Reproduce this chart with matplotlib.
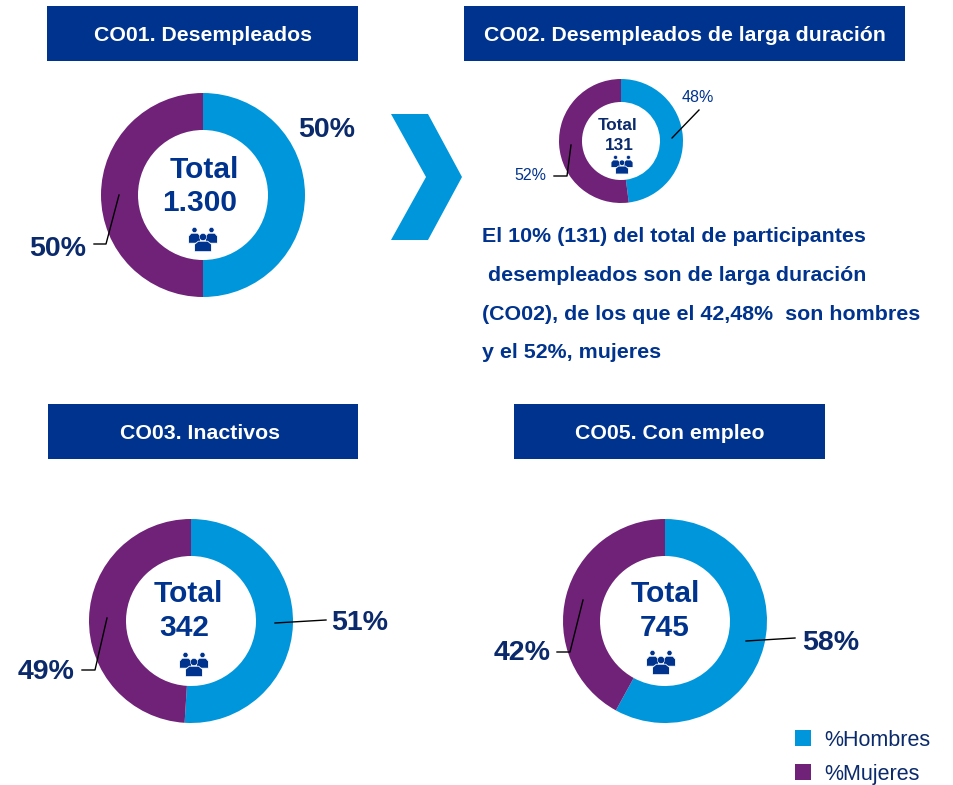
import matplotlib
matplotlib.use('Agg')
import matplotlib.pyplot as plt
from matplotlib.patches import Rectangle, Polygon, Circle

plt.rcParams['font.family'] = ['Liberation Sans', 'DejaVu Sans']

W, H = 954, 785
BLUE = '#0096DC'
PURPLE = '#6F2278'
NAVY = '#00338D'
DARK = '#0B2A6B'

series_names = ['%Hombres', '%Mujeres']
titles = ['CO01. Desempleados', 'CO02. Desempleados de larga duración',
          'CO03. Inactivos', 'CO05. Con empleo']
hombres = [50, 48, 51, 58]
mujeres = [50, 52, 49, 42]
totals = ['1.300', '131', '342', '745']
note_lines = ['El 10% (131) del total de participantes',
              ' desempleados son de larga duración',
              '(CO02), de los que el 42,48%  son hombres',
              'y el 52%, mujeres']


def py(y):
    return H - y


fig = plt.figure(figsize=(W / 100, H / 100), dpi=100, facecolor='white')
ax = fig.add_axes([0, 0, 1, 1])


def person(x, top, w, h, r, z):
    # head plus shoulders, in picture pixels
    ax.add_patch(Circle((x, py(top)), r, fc=NAVY, ec='white', lw=0.4, zorder=z))
    y0 = top + r + 0.6
    pts = [(x - w, y0 + h), (x - w, y0 + 0.3 * h), (x - 0.55 * w, y0), (x + 0.55 * w, y0),
           (x + w, y0 + 0.3 * h), (x + w, y0 + h)]
    ax.add_patch(Polygon([(a, py(b)) for a, b in pts], closed=True, fc=NAVY, ec='white',
                         lw=0.6, zorder=z))


def people(cx, cy, s):
    # small group icon, s = scale in px
    person(cx - 8.5 * s, cy - 10 * s, 6 * s, 10 * s, 2.6 * s, 5)
    person(cx + 8.5 * s, cy - 10 * s, 6 * s, 10 * s, 2.6 * s, 5)
    person(cx, cy - 3 * s, 8.5 * s, 10.5 * s, 3.6 * s, 6)


def donut(i, cx, cy, r, hole):
    ax.pie([hombres[i], mujeres[i]], colors=[BLUE, PURPLE], startangle=90, counterclock=False,
           center=(cx, py(cy)), radius=r, frame=False,
           wedgeprops=dict(width=r - hole, linewidth=0))


def header(i, x0, x1, y0, y1, dx=0, size=15.3):
    ax.add_patch(Rectangle((x0, py(y1)), x1 - x0, y1 - y0, fc=NAVY, ec='none', zorder=3))
    ax.text((x0 + x1) / 2 + dx, py((y0 + y1) / 2 + 2), titles[i], color='white', fontsize=size,
            fontweight='bold', ha='center', va='center', zorder=4)


def leader(xs, ys):
    ax.plot(xs, [py(y) for y in ys], color='black', lw=1, zorder=5)


def label(x, y, txt, size=20.5, color=DARK, weight='bold'):
    ax.text(x, py(y + 2), txt, fontsize=size, color=color, fontweight=weight, ha='center', va='center')


donut(0, 203, 195, 102, 65)
donut(1, 621, 141, 62, 39)
donut(2, 191, 621, 102, 65)
donut(3, 665, 621, 102, 65)

header(0, 47, 358, 6, 61, 1)
header(1, 464, 905, 6, 61)
header(2, 48, 358, 404, 459, -3)
header(3, 514, 825, 404, 459)

# arrow between first two
ax.add_patch(Polygon([(391, py(114)), (428, py(114)), (462, py(177)), (428, py(240)),
                      (391, py(240)), (426, py(177))], closed=True, fc=BLUE, ec='none'))

# centre texts
label(204, 168, 'Total', 21.5, NAVY)
label(200, 201, totals[0], 21.5, NAVY)
people(203, 240, 1)
label(618, 124, 'Total', 12.3, DARK)
label(619, 143, totals[1], 12.3, DARK)
people(622, 165, 0.76)
label(188, 592, 'Total', 21.5, NAVY)
label(184, 626, totals[2], 21.5, NAVY)
people(194, 665, 1)
label(665, 592, 'Total', 21.5, NAVY)
label(665, 626, totals[3], 21.5, NAVY)
people(661, 663, 1)

# percentage labels
label(327, 128, f'{hombres[0]}%')
label(58, 247, f'{mujeres[0]}%')
leader([94, 106, 119], [244, 244, 195])
ax.text(698, py(97), f'{hombres[1]}%', fontsize=11.5, color=NAVY, ha='center', va='center')
ax.text(530, py(176), f'{mujeres[1]}%', fontsize=11.5, color=NAVY, ha='center', va='center')
leader([699, 672], [110, 138])
leader([554, 567, 571], [176, 176, 145])
label(360, 621, f'{hombres[2]}%')
leader([275, 326], [623, 620])
label(46, 670, f'{mujeres[2]}%')
leader([82, 95, 107], [670, 670, 618])
label(831, 641, f'{hombres[3]}%')
leader([746, 795], [641, 638])
label(522, 651, f'{mujeres[3]}%')
leader([557, 570, 583], [652, 652, 600])

# note text
for line, y in zip(note_lines, [237, 276, 315, 353]):
    ax.text(482, py(y), line, fontsize=15.4, color=NAVY, fontweight='bold', ha='left', va='center')

# legend
for name, col, y in zip(series_names, [BLUE, PURPLE], [738, 772]):
    ax.add_patch(Rectangle((795, py(y + 8)), 16, 16, fc=col, ec='none'))
    ax.text(824, py(y + 2.5), name, fontsize=15.5, color=DARK, ha='left', va='center')

ax.set_xlim(0, W)
ax.set_ylim(0, H)
ax.set_aspect('equal')
ax.axis('off')

fig.savefig('out.png', dpi=100)
